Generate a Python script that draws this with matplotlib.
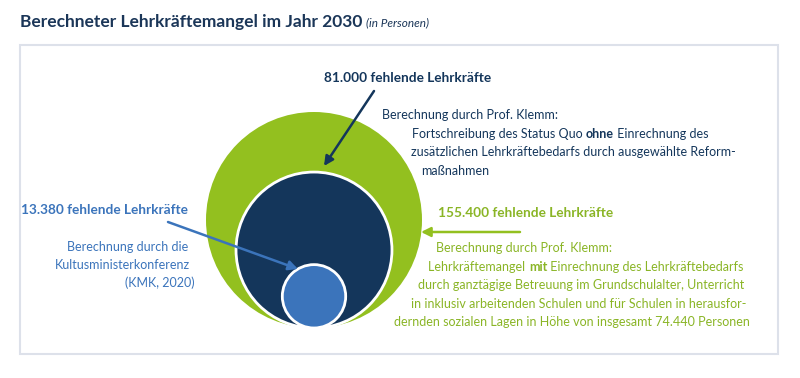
import matplotlib.pyplot as plt
from matplotlib.patches import Circle, Rectangle
from matplotlib import font_manager
import numpy as np

# Lehrkräftemangel 2030 (in Personen)
labels = ["155.400 fehlende Lehrkräfte", "81.000 fehlende Lehrkräfte", "13.380 fehlende Lehrkräfte"]
values = [155400, 81000, 13380]
colors = ["#93c01f", "#14365b", "#3b74bb"]

title = "Berechneter Lehrkräftemangel im Jahr 2030"
subtitle = "(in Personen)"

navy_lines = [
    [("Berechnung durch Prof. Klemm:", "normal")],
    [("Fortschreibung des Status Quo ", "normal"), ("ohne", "bold"), (" Einrechnung des", "normal")],
    [("zusätzlichen Lehrkräftebedarfs durch ausgewählte Reform-", "normal")],
    [("maßnahmen", "normal")],
]
green_lines = [
    [("Berechnung durch Prof. Klemm:", "normal")],
    [("Lehrkräftemangel ", "normal"), ("mit", "bold"), (" Einrechnung des Lehrkräftebedarfs", "normal")],
    [("durch ganztägige Betreuung im Grundschulalter, Unterricht", "normal")],
    [("in inklusiv arbeitenden Schulen und für Schulen in herausfor-", "normal")],
    [("dernden sozialen Lagen in Höhe von insgesamt 74.440 Personen", "normal")],
]
blue_lines = ["Berechnung durch die", "Kultusministerkonferenz", "(KMK, 2020)"]

names = {f.name for f in font_manager.fontManager.ttflist}
main = "Lato"
for cand in ["Liberation Sans Narrow", "DejaVu Sans Condensed"]:
    if cand in names:
        main = cand
        break
plt.rcParams["font.family"] = [main, "DejaVu Sans"]

fig = plt.figure(figsize=(8, 3.78), dpi=100)
ax = fig.add_axes([0, 0, 1, 1])
ax.set_xlim(0, 800)
ax.set_ylim(378, 0)
ax.axis("off")
r = fig.canvas.get_renderer()


def extent(tt):
    b = tt.get_window_extent(r).transformed(ax.transData.inverted())
    return b.x0, b.x1


def line_width(parts, size):
    w = 0
    for txt, wt in parts:
        tt = ax.text(0, 0, txt, fontsize=size, fontweight=wt)
        a, b = extent(tt)
        w += b - a
        tt.remove()
    return w


# layout of the reference lines: (left, right, y)
navy_pos = [(380, 560, 115), (402, 718, 134), (417, 730, 152), (422, 488, 171)]
green_pos = [(438, 610, 248), (432, 740, 267), (427, 735, 285), (417, 740, 304), (403, 740, 322)]
blue_pos = [(80, 188, 247), (60, 190, 265), (122, 195, 283)]

base = 10
body = base
for lines, pos in [(navy_lines, navy_pos), (green_lines, green_pos),
                   ([[(b, "normal")] for b in blue_lines], blue_pos)]:
    for parts, (x0, x1, y) in zip(lines, pos):
        body = min(body, base * (x1 - x0) / line_width(parts, base))
body = max(body, 9.0)


def rich_line(parts, x0, x1, y, color):
    w = line_width(parts, body)
    x = (x0 + x1) / 2 - w / 2
    for txt, wt in parts:
        tt = ax.text(x, y, txt, fontsize=body, fontweight=wt, color=color, va="center", ha="left")
        x = extent(tt)[1]


# frame
ax.add_patch(Rectangle((20, 45), 758, 309, fill=False, ec="#dde1ea", lw=1.5))

# title
t = ax.text(20, 22, title, fontsize=12.5, fontweight="bold", color="#1b3658", va="center")
ax.text(extent(t)[1] + 4, 23, subtitle, fontsize=8.5, style="italic", color="#1b3658", va="center")

# circles, area proportional, bottom aligned
cx, bottom, rmax = 314, 328, 108
for v, c in zip(values, colors):
    rad = rmax * np.sqrt(v / max(values))
    ax.add_patch(Circle((cx, bottom - rad), rad, fc=c, ec="white", lw=2 if v != max(values) else 0))

lab = 9.8
green_txt = "#8ab526"

# navy block
ax.text(408, 78, labels[1], fontsize=lab, fontweight="bold", color=colors[1], ha="center", va="center")
ax.annotate("", xy=(324, 166), xytext=(374, 91),
            arrowprops=dict(arrowstyle="-|>", color=colors[1], lw=1.8, mutation_scale=14, shrinkA=0, shrinkB=0))
for parts, (x0, x1, y) in zip(navy_lines, navy_pos):
    rich_line(parts, x0, x1, y, colors[1])

# blue block
ax.text(188, 210, labels[2], fontsize=lab, fontweight="bold", color=colors[2], ha="right", va="center")
ax.annotate("", xy=(298, 269), xytext=(168, 222),
            arrowprops=dict(arrowstyle="-|>", color=colors[2], lw=1.8, mutation_scale=14, shrinkA=0, shrinkB=0))
for txt, (x0, x1, y) in zip(blue_lines, blue_pos):
    ax.text(x1, y, txt, fontsize=body, color=colors[2], ha="right", va="center")

# green block
ax.text(438, 213, labels[0], fontsize=lab, fontweight="bold", color=green_txt, ha="left", va="center")
ax.annotate("", xy=(421, 232), xytext=(520, 232),
            arrowprops=dict(arrowstyle="-|>", color=colors[0], lw=1.8, mutation_scale=14, shrinkA=0, shrinkB=0))
for parts, (x0, x1, y) in zip(green_lines, green_pos):
    rich_line(parts, x0, x1, y, green_txt)

fig.savefig("out.png", dpi=100)
